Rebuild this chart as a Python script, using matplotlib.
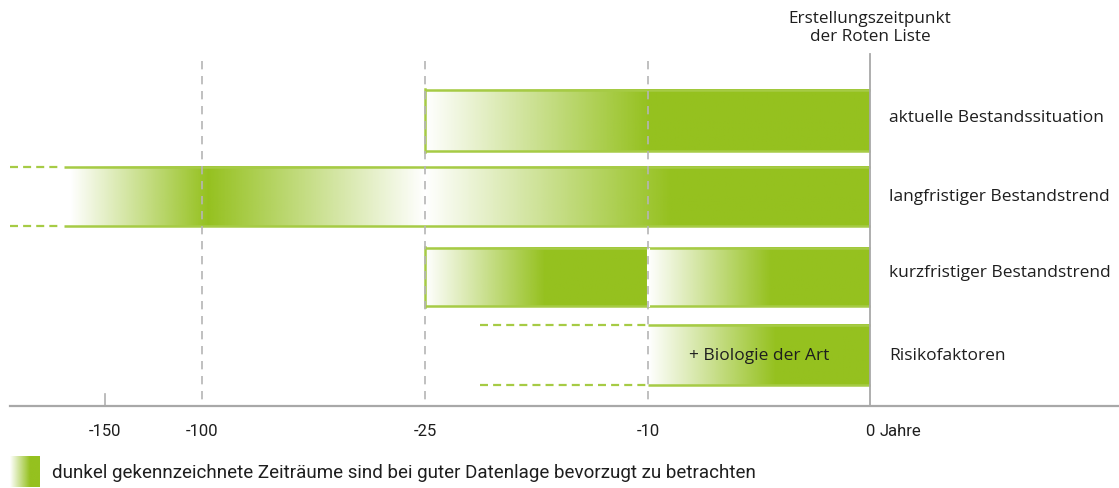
import numpy as np
import matplotlib.pyplot as plt
from matplotlib.colors import to_rgb

# ---------------- data ----------------
row_labels = ["aktuelle Bestandssituation", "langfristiger Bestandstrend",
              "kurzfristiger Bestandstrend", "Risikofaktoren"]

tick_years = [-150, -100, -25, -10, 0]
tick_labels = ["-150", "-100", "-25", "-10", "0"]
grid_years = [-100, -25, -10]

# colour stops per row: years and strength of the green (0 = white, 1 = full)
stop_years = [
    [-25, -10, 0],
    [-168, -98, -25, -9, 0],
    [-25, -17, -10, -10, -4.5, 0],
    [-10, -4.3, 0],
]
stop_alpha = [
    [0, 1, 1],
    [0, 1, 0, 1, 1],
    [0, 1, 1, 0, 1, 1],
    [0, 1, 1],
]
# solid frame lines (top/bottom) per row, and dashed extensions
frame_spans = [(-25, 0), (-171, 0), (-25, 0), (-10, 0)]
frame_left = [-25, None, -25, None]
dash_spans = [None, (-199, -172.5), None, (-21.3, -10)]
row_divider = [None, None, -10, None]

# ---------------- styling ----------------
green = "#95c11f"
edge = "#a6cb45"
grid_c = "#b5b5b5"
txt_c = "#1e1e1e"
lab_font = ["Open Sans", "DejaVu Sans"]
num_font = ["Roboto", "DejaVu Sans"]

row_top = [90, 167, 248, 325]
row_bot = [153, 228, 308, 387]
label_y = [118, 197, 273, 356]
axis_y = 407

# non-linear year axis, anchors taken from the figure
anchor_years = [-204.1, -150, -100, -25, -10, 0, 11.2]
anchor_pos = [0, 105, 202, 425, 648, 870, 1119]


def fwd(v):
    return np.interp(v, anchor_years, anchor_pos)


def inv(p):
    return np.interp(p, anchor_pos, anchor_years)


fig = plt.figure(figsize=(11.19, 4.89), dpi=100)
ax = fig.add_axes([0, 0, 1, 1])
ax.set_xscale("function", functions=(fwd, inv))

rgb = to_rgb(green)
for i in range(len(row_labels)):
    y0, y1 = row_top[i], row_bot[i]
    xs = np.linspace(stop_years[i][0], stop_years[i][-1], 4000)
    # gradient runs evenly across the drawn length between stops
    a = np.interp(fwd(xs), fwd(np.array(stop_years[i], float)), stop_alpha[i])
    img = np.zeros((1, len(xs), 4))
    img[..., :3] = rgb
    img[0, :, 3] = a
    ax.imshow(img, extent=(xs[0], xs[-1], y1, y0), aspect="auto",
              interpolation="bilinear", zorder=1)

    fx0, fx1 = frame_spans[i]
    ax.plot([fx0, fx1], [y0 + 1, y0 + 1], color=edge, lw=1.8, zorder=3,
            solid_capstyle="butt")
    ax.plot([fx0, fx1], [y1 - 1, y1 - 1], color=edge, lw=1.8, zorder=3,
            solid_capstyle="butt")
    if frame_left[i] is not None:
        ax.plot([frame_left[i]] * 2, [y0, y1], color=edge, lw=1.8, zorder=3)
    if row_divider[i] is not None:
        ax.plot([row_divider[i]] * 2, [y0 + 2, y1 - 2], color="white", lw=2.2,
                zorder=3)
    if dash_spans[i] is not None:
        dx0, dx1 = dash_spans[i]
        for yy in (y0 + 1, y1 - 1):
            ax.plot([dx0, dx1], [yy, yy], color=edge, lw=1.6, zorder=3,
                    linestyle=(0, (3.6, 2.3)))
    ax.annotate(row_labels[i], xy=(0, label_y[i]), xytext=(14, 0),
                textcoords="offset points", ha="left", va="center",
                fontsize=12.5, family=lab_font, color=txt_c)

ax.text(-5, 356, "+ Biologie der Art", ha="center", va="center",
        fontsize=12.5, family=lab_font, color=txt_c, zorder=5)

# grid and axis
for g in grid_years:
    ax.plot([g, g], [62, axis_y], color=grid_c, lw=1.2, zorder=4,
            linestyle=(0, (5, 4)))
ax.plot([0, 0], [55, axis_y], color="#a8a8a8", lw=1.3, zorder=4)
ax.plot([-150, -150], [395, axis_y], color="#b0b0b0", lw=1.2, zorder=4)
ax.plot([-199, 11.2], [axis_y, axis_y], color="#a8a8a8", lw=1.6, zorder=4)

for yr, lab in zip(tick_years, tick_labels):
    ax.text(yr, 431, lab, ha="center", va="center", fontsize=12,
            family=num_font, color=txt_c)
ax.annotate("Jahre", xy=(0, 431), xytext=(7, 0), textcoords="offset points",
            ha="left", va="center", fontsize=12, family=num_font, color=txt_c)

ax.text(0, 28, "Erstellungszeitpunkt\nder Roten Liste", ha="center",
        va="center", fontsize=12.3, linespacing=1.2, family=lab_font,
        color=txt_c)

ax.set_xlim(anchor_years[0], anchor_years[-1])
ax.set_ylim(489, 0)
ax.axis("off")

# legend swatch and note
lax = fig.add_axes([10 / 1119, (489 - 488) / 489, 30 / 1119, 31 / 489])
sw = np.zeros((1, 256, 4))
sw[..., :3] = rgb
sw[..., 3] = np.clip(np.linspace(0, 1.5, 256), 0, 1)
lax.imshow(sw, aspect="auto", interpolation="bilinear")
lax.axis("off")
fig.text(52 / 1119, 1 - 473 / 489, "dunkel gekennzeichnete Zeiträume sind bei "
         "guter Datenlage bevorzugt zu betrachten", ha="left", va="center",
         fontsize=13.5, family=num_font, color=txt_c)

fig.savefig("out.png", dpi=100)
